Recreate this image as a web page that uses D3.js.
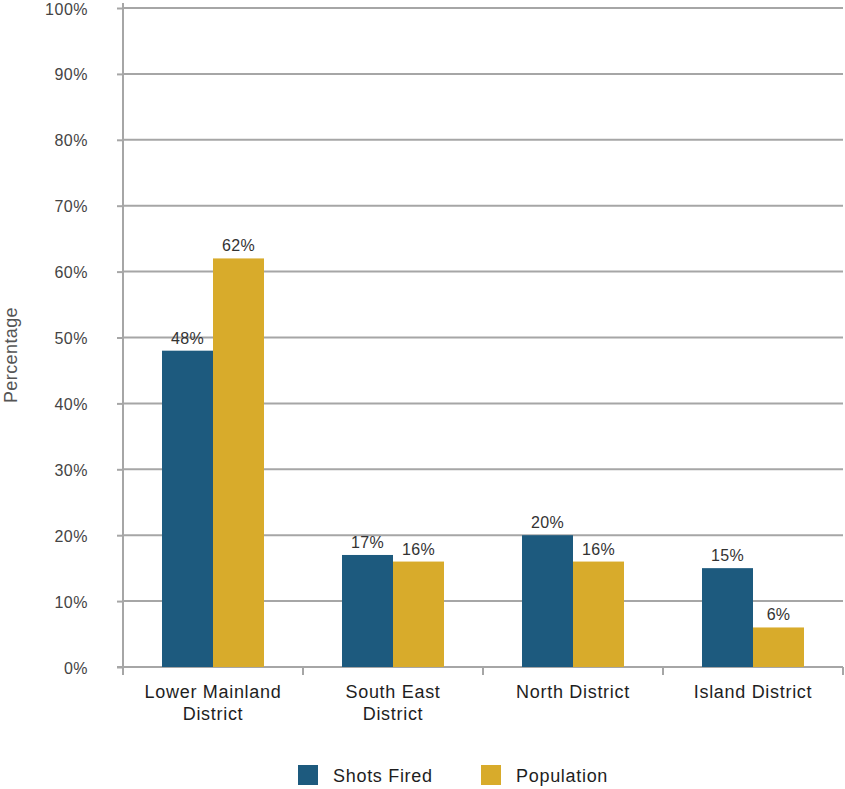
<!DOCTYPE html>
<html>
<head>
<meta charset="utf-8">
<script src="https://cdn.jsdelivr.net/npm/d3@7"></script>
<style>
  body { margin: 0; background: #fff; }
  svg { font-family: "Liberation Sans", Arial, sans-serif; }
</style>
</head>
<body>
<svg id="chart" width="845" height="789"></svg>
<script>
// data
var categories = [["Lower Mainland", "District"], ["South East", "District"], ["North District"], ["Island District"]];
var seriesNames = ["Shots Fired", "Population"];
var shotsFired = [48, 17, 20, 15];
var population = [62, 16, 16, 6];
var yTicks = [0, 10, 20, 30, 40, 50, 60, 70, 80, 90, 100];
var colors = ["#1d5a7e", "#d8ab2b"];

var svg = d3.select("#chart");
var plotLeft = 123, plotRight = 843, plotTop = 8, plotBottom = 667;

var x = d3.scaleBand().domain(d3.range(categories.length)).range([plotLeft, plotRight]).paddingInner(0).paddingOuter(0);
var xSub = d3.scaleBand().domain([0, 1]).range([39, 141]);
var y = d3.scaleLinear().domain([0, 100]).range([plotBottom, plotTop]);

// gridlines
svg.append("g").selectAll("line").data(yTicks.slice(1)).enter().append("line")
  .attr("x1", plotLeft).attr("x2", plotRight)
  .attr("y1", function(d) { return y(d); }).attr("y2", function(d) { return y(d); })
  .attr("stroke", "#a6a6a6").attr("stroke-width", 2);

// y axis
var yAxis = svg.append("g").attr("transform", "translate(" + plotLeft + ",0)")
  .call(d3.axisLeft(y).tickValues(yTicks).tickSize(6).tickPadding(29).tickFormat(function(d) { return d + "%"; }));
yAxis.select(".domain").attr("stroke", "#a6a6a6").attr("stroke-width", 2).attr("d", "M0," + (plotBottom + 3) + "V3");
yAxis.selectAll(".tick line").attr("stroke", "#a6a6a6").attr("stroke-width", 2);
yAxis.selectAll(".tick text").attr("fill", "#444").style("font-size", "16px")
  .style("letter-spacing", "0.5px").attr("dy", "0.38em");

// x axis
var xAxis = svg.append("g").attr("transform", "translate(0," + plotBottom + ")");
xAxis.append("line").attr("x1", plotLeft - 6).attr("x2", plotRight).attr("y1", 0).attr("y2", 0)
  .attr("stroke", "#a6a6a6").attr("stroke-width", 2);
var bounds = x.domain().map(function(d) { return x(d); }).concat([plotRight]);
xAxis.selectAll("line.tk").data(bounds).enter().append("line").attr("class", "tk")
  .attr("x1", function(d) { return d; }).attr("x2", function(d) { return d; })
  .attr("y1", 0).attr("y2", 8).attr("stroke", "#a6a6a6").attr("stroke-width", 2);
xAxis.selectAll("text.cat").data(categories).enter().append("text").attr("class", "cat")
  .attr("x", function(d, i) { return x(i) + x.bandwidth() / 2; })
  .attr("y", 31).attr("text-anchor", "middle").attr("fill", "#1e1e1e")
  .style("font-size", "18px").style("letter-spacing", "0.7px")
  .each(function(d) {
    var t = d3.select(this);
    d.forEach(function(line, j) {
      t.append("tspan").attr("x", t.attr("x")).attr("dy", j ? 22 : 0).text(line);
    });
  });

// bars
var series = [shotsFired, population];
series.forEach(function(vals, s) {
  var g = svg.append("g");
  g.selectAll("rect").data(vals).enter().append("rect")
    .attr("x", function(d, i) { return x(i) + xSub(s); })
    .attr("y", function(d) { return y(d); })
    .attr("width", xSub.bandwidth())
    .attr("height", function(d) { return y(0) - y(d); })
    .attr("fill", colors[s]);
  g.selectAll("text").data(vals).enter().append("text")
    .attr("x", function(d, i) { return x(i) + xSub(s) + xSub.bandwidth() / 2; })
    .attr("y", function(d) { return y(d) - 7; })
    .attr("text-anchor", "middle").attr("fill", "#333").style("font-size", "16px")
    .style("letter-spacing", "0.3px")
    .text(function(d) { return d + "%"; });
});

// y title
svg.append("text").attr("transform", "translate(17,355) rotate(-90)")
  .attr("text-anchor", "middle").attr("fill", "#555").style("font-size", "18px")
  .style("letter-spacing", "0.4px").text("Percentage");

// legend
var legendX = [298, 481];
var legend = svg.append("g").selectAll("g").data(seriesNames).enter().append("g")
  .attr("transform", function(d, i) { return "translate(" + legendX[i] + ",765)"; });
legend.append("rect").attr("width", 20).attr("height", 20).attr("fill", function(d, i) { return colors[i]; });
legend.append("text").attr("x", 35).attr("y", 17).attr("fill", "#1e1e1e")
  .style("font-size", "18px").style("letter-spacing", "0.7px")
  .text(function(d) { return d; });
</script>
</body>
</html>
